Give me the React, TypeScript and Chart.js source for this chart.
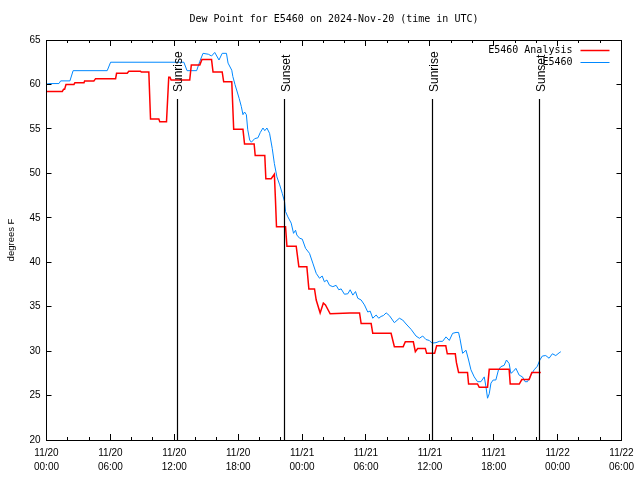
import React, { useEffect, useRef } from "react";
import { Chart, registerables } from "chart.js";

Chart.register(...registerables);

// ---------- data ----------
const TITLE = "Dew Point for E5460 on 2024-Nov-20 (time in UTC)";
const Y_LABEL = "degrees F";

// hours since 11/20 00:00 UTC
const X_MIN = 0;
const X_MAX = 54;
const X_MAJOR_STEP = 6;
const X_MINOR_STEP = 2;
const xTickDates = ["11/20", "11/20", "11/20", "11/20", "11/21", "11/21", "11/21", "11/21", "11/22", "11/22"];
const xTickTimes = ["00:00", "06:00", "12:00", "18:00", "00:00", "06:00", "12:00", "18:00", "00:00", "06:00"];

const Y_MIN = 20;
const Y_MAX = 65;
const Y_STEP = 5;

const analysisLabel = "E5460 Analysis";
const analysisHours = [
  0, 1.48, 1.6, 1.7, 1.83, 2.58, 2.67, 3.52, 3.58, 4.45, 4.61, 6.49, 6.58, 7.58, 7.73, 8.83, 8.9, 9.61,
  9.77, 10.55, 10.64, 11.27, 11.48, 11.6, 11.7, 13.45, 13.6, 14.4, 14.6, 15.5, 15.64, 16.5, 16.64, 17.4,
  17.58, 18.45, 18.6, 19.5, 19.6, 20.5, 20.6, 21.1, 21.4, 21.5, 21.6, 22.45, 22.58, 23.45, 23.7, 24.45,
  24.64, 25.17, 25.33, 25.7, 26.0, 26.2, 26.64, 28.5, 29.4, 29.55, 30.49, 30.64, 32.36, 32.67, 33.5, 33.7,
  34.45, 34.64, 34.86, 35.58, 35.7, 36.45, 36.64, 37.5, 37.64, 38.39, 38.5, 38.7, 39.54, 39.64, 40.48,
  40.64, 41.42, 41.58, 43.45, 43.55, 44.4, 44.64, 45.33, 45.58, 46.42,
];
const analysisValues = [
  59.2, 59.2, 59.45, 59.45, 60.0, 60.0, 60.2, 60.2, 60.4, 60.4, 60.65, 60.65, 61.25, 61.25, 61.48, 61.48, 61.4, 61.4,
  56.1, 56.1, 55.8, 55.8, 60.8, 60.8, 60.5, 60.5, 62.2, 62.2, 62.8, 62.8, 61.4, 61.4, 60.3, 60.3,
  54.95, 54.95, 53.3, 53.3, 52.0, 52.0, 49.4, 49.4, 49.9, 47.1, 44.0, 44.0, 41.8, 41.8, 39.5, 39.5,
  37.0, 37.0, 35.75, 34.3, 35.4, 35.2, 34.2, 34.3, 34.3, 33.1, 33.1, 32.0, 32.0, 30.5, 30.5, 31.05,
  31.05, 29.93, 30.3, 30.3, 29.75, 29.75, 30.6, 30.6, 29.7, 29.7, 28.7, 27.6, 27.6, 26.3, 26.3,
  25.93, 25.93, 27.95, 27.95, 26.3, 26.3, 26.8, 26.8, 27.6, 27.6,
];

const obsLabel = "E5460";
const obsHours = [
  0, 0.33, 1.17, 1.33, 2.2, 2.5, 5.7, 6.02, 12.9, 13.2, 14.1, 14.4, 14.7, 15.2, 15.5, 15.8, 16.2, 16.5,
  16.9, 17.05, 17.4, 17.5, 17.7, 17.8, 18.1, 18.3, 18.45, 18.6, 18.77, 18.9, 19.08, 19.24, 19.55, 19.86,
  20.08, 20.33, 20.5, 20.7, 20.95, 21.2, 21.4, 21.64, 21.9, 22.14, 22.36, 22.45, 22.67, 22.98, 23.2,
  23.39, 23.51, 23.77, 24.02, 24.33, 24.7, 25.01, 25.33, 25.64, 25.89, 26.1, 26.33, 26.58, 26.89, 27.2,
  27.45, 27.67, 27.98, 28.3, 28.52, 28.77, 29.02, 29.23, 29.55, 29.86, 30.17, 30.4, 30.64, 30.96, 31.2,
  31.42, 31.64, 31.9, 32.2, 32.67, 33.14, 33.45, 33.77, 34.24, 34.7, 35.02, 35.33, 35.64, 35.95, 36.2,
  36.58, 36.89, 37.2, 37.52, 37.83, 38.14, 38.46, 38.7, 38.83, 39.08, 39.4, 39.64, 39.86, 40.17, 40.48,
  40.8, 41.11, 41.27, 41.42, 41.58, 41.74, 41.95, 42.2, 42.45, 42.67, 42.98, 43.2, 43.45, 43.61, 43.83,
  44.08, 44.39, 44.7, 44.95, 45.17, 45.49, 45.8, 46.1, 46.33, 46.57, 46.89, 47.2, 47.51, 47.83, 48.14, 48.3,
];
const obsValues = [
  60.05, 60.1, 60.1, 60.4, 60.4, 61.55, 61.55, 62.5, 62.5, 61.55, 61.55, 62.6, 63.5, 63.4, 63.2, 63.6, 62.75, 63.5,
  63.5, 62.4, 61.6, 60.9, 60.0, 59.6, 58.4, 57.5, 56.6, 56.9, 56.6, 54.9, 53.75, 53.5, 53.9, 54.0,
  54.6, 55.1, 54.8, 55.1, 54.5, 52.8, 51.1, 49.6, 48.7, 47.75, 46.8, 45.7, 45.1, 44.4, 43.25,
  43.6, 43.06, 42.7, 42.6, 41.56, 41.0, 39.9, 38.75, 38.2, 38.45, 37.8, 38.0, 37.4, 37.25, 37.4,
  36.9, 37.0, 36.4, 36.45, 36.9, 36.3, 36.7, 35.95, 35.75, 35.2, 34.4, 34.5, 33.7, 34.06, 33.7,
  33.9, 34.0, 34.3, 34.0, 33.2, 33.7, 33.5, 33.05, 32.45, 31.7, 31.44, 31.7, 31.3, 31.2, 30.9,
  30.95, 31.1, 31.1, 31.6, 31.2, 32.0, 32.1, 32.1, 31.4, 29.75, 30.1, 29.0, 27.9, 27.1, 26.56,
  26.56, 27.1, 26.0, 24.7, 25.2, 26.4, 26.75, 26.75, 27.9, 28.25, 28.4, 29.0, 28.6, 27.5, 27.7,
  28.06, 27.3, 27.1, 26.56, 26.56, 27.3, 27.9, 28.3, 29.0, 29.45, 29.5, 29.2, 29.7, 29.5, 29.8, 29.93,
];

const eventNames = ["Sunrise", "Sunset", "Sunrise", "Sunset"];
const eventHours = [12.27, 22.39, 36.26, 46.33];

// ---------- styles ----------
const MONO = "'DejaVu Sans Mono', monospace";
const SANS = "'Liberation Sans', Arial, sans-serif";
const RED = "#ff0000";
const BLUE = "#0088ff";

const crisp = (v: number) => Math.round(v - 0.5) + 0.5;

const gnuplotDecor = {
  id: "gnuplotDecor",
  afterDatasetsDraw(chart: any) {
    const { ctx, chartArea } = chart;
    const { left, right, top, bottom } = chartArea;
    const xs = chart.scales.x;
    const ys = chart.scales.y;
    ctx.save();
    ctx.strokeStyle = "#000";
    ctx.lineWidth = 1;

    // border
    ctx.strokeRect(crisp(left), crisp(top), Math.round(right - left), Math.round(bottom - top));

    // x ticks (inward, mirrored)
    ctx.beginPath();
    for (let h = X_MIN; h <= X_MAX + 1e-9; h += X_MINOR_STEP) {
      const px = crisp(xs.getPixelForValue(h));
      const len = h % X_MAJOR_STEP === 0 ? 6 : 3;
      ctx.moveTo(px, bottom);
      ctx.lineTo(px, bottom - len);
      ctx.moveTo(px, top);
      ctx.lineTo(px, top + len);
    }
    // y ticks (inward, mirrored)
    for (const t of ys.ticks) {
      const py = crisp(ys.getPixelForValue(t.value));
      ctx.moveTo(left, py);
      ctx.lineTo(left + 5, py);
      ctx.moveTo(right, py);
      ctx.lineTo(right - 5, py);
    }
    ctx.stroke();

    // sunrise / sunset lines
    ctx.lineWidth = 1.2;
    ctx.beginPath();
    eventHours.forEach((h) => {
      const px = crisp(xs.getPixelForValue(h));
      ctx.moveTo(px, top + 59);
      ctx.lineTo(px, bottom);
    });
    ctx.stroke();
    ctx.fillStyle = "#000";
    ctx.font = `12px ${SANS}`;
    ctx.textAlign = "left";
    ctx.textBaseline = "middle";
    eventHours.forEach((h, i) => {
      const px = xs.getPixelForValue(h);
      ctx.save();
      ctx.translate(px + 2, top + 52);
      ctx.rotate(-Math.PI / 2);
      ctx.fillText(eventNames[i], 0, 0);
      ctx.restore();
    });

    // legend (gnuplot style: text right-aligned, sample line to the right)
    ctx.font = `10px ${MONO}`;
    ctx.textAlign = "right";
    ctx.textBaseline = "middle";
    const legendItems = chart.data.datasets;
    legendItems.forEach((ds: any, i: number) => {
      const y = top + 10 + i * 12;
      ctx.fillStyle = "#000";
      ctx.fillText(ds.label, right - 49, y);
      ctx.strokeStyle = ds.borderColor;
      ctx.lineWidth = ds.borderWidth;
      ctx.beginPath();
      ctx.moveTo(right - 41, crisp(y));
      ctx.lineTo(right - 12, crisp(y));
      ctx.stroke();
    });
    ctx.restore();
  },
};

export default function App() {
  const canvasRef = useRef<HTMLCanvasElement | null>(null);

  useEffect(() => {
    if (!canvasRef.current) return;
    const chart = new Chart(canvasRef.current, {
      type: "line",
      data: {
        datasets: [
          {
            label: analysisLabel,
            data: analysisHours.map((h, i) => ({ x: h, y: analysisValues[i] })),
            borderColor: RED,
            backgroundColor: RED,
            borderWidth: 1.5,
            pointRadius: 0,
            tension: 0,
            fill: false,
          },
          {
            label: obsLabel,
            data: obsHours.map((h, i) => ({ x: h, y: obsValues[i] })),
            borderColor: BLUE,
            backgroundColor: BLUE,
            borderWidth: 1,
            pointRadius: 0,
            tension: 0,
            fill: false,
          },
        ],
      },
      options: {
        animation: false,
        responsive: false,
        devicePixelRatio: 1,
        events: [],
        layout: { padding: { left: 0, right: 18, top: 0, bottom: 0 } },
        plugins: {
          legend: { display: false },
          tooltip: { enabled: false },
          title: {
            display: true,
            text: TITLE,
            color: "#000",
            fullSize: false,
            font: { family: MONO, size: 10, weight: "normal", lineHeight: 1.2 },
            padding: { top: 13, bottom: 15 },
          },
        },
        scales: {
          x: {
            type: "linear",
            min: X_MIN,
            max: X_MAX,
            grid: { display: false, drawTicks: false },
            border: { display: false },
            ticks: {
              stepSize: X_MAJOR_STEP,
              autoSkip: false,
              maxRotation: 0,
              color: "#000",
              padding: 6,
              font: { family: SANS, size: 10, lineHeight: 1.4 },
              callback: (v: any) => {
                const i = Math.round(Number(v) / X_MAJOR_STEP);
                return [xTickDates[i], xTickTimes[i]];
              },
            },
            afterFit: (s: any) => {
              s.height = 40;
            },
          },
          y: {
            type: "linear",
            min: Y_MIN,
            max: Y_MAX,
            grid: { display: false, drawTicks: false },
            border: { display: false },
            ticks: {
              stepSize: Y_STEP,
              color: "#000",
              padding: 6,
              font: { family: SANS, size: 10 },
            },
            title: {
              display: true,
              text: Y_LABEL,
              color: "#000",
              font: { family: SANS, size: 9.5 },
              padding: 6,
            },
            afterFit: (s: any) => {
              s.width = 46.5;
            },
          },
        },
      },
      plugins: [gnuplotDecor],
    });
    return () => chart.destroy();
  }, []);

  return (
    <div style={{ position: "fixed", left: 0, top: 0, width: 640, height: 480, background: "#fff" }}>
      <canvas ref={canvasRef} width={640} height={480} style={{ display: "block" }} />
    </div>
  );
}
